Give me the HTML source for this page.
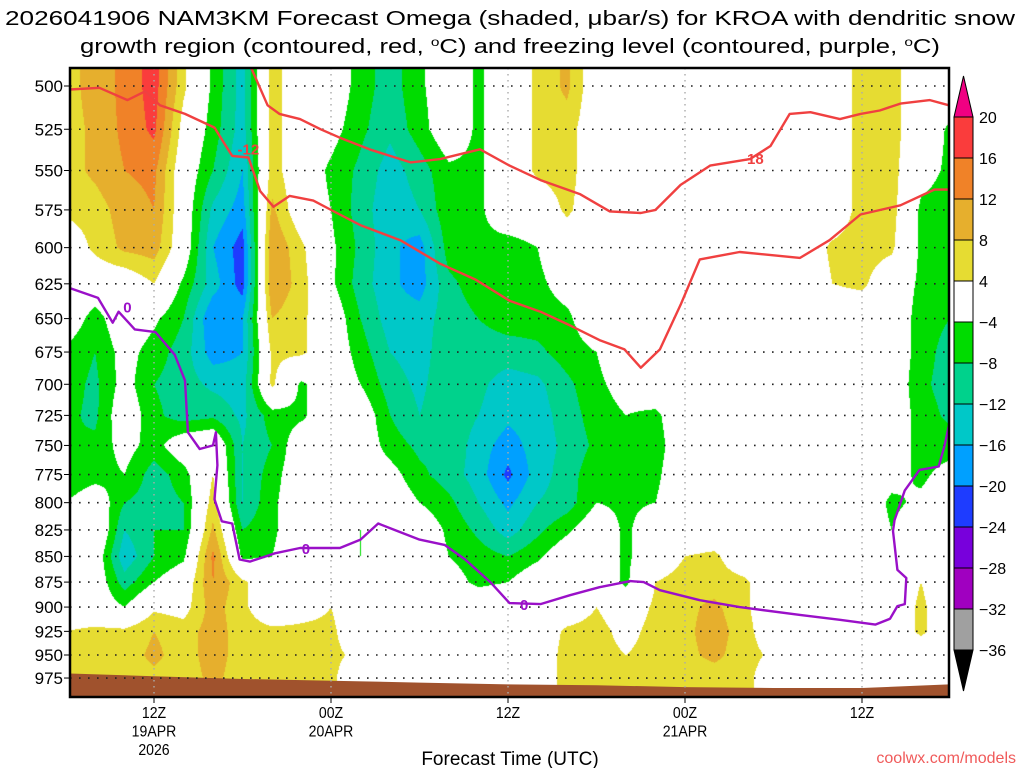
<!DOCTYPE html>
<html><head><meta charset="utf-8">
<style>
html,body{margin:0;padding:0;background:#fff;width:1024px;height:768px;overflow:hidden}
#wrap{position:relative;width:1024px;height:768px}
#cv{position:absolute;left:70px;top:68px}
#svg{position:absolute;left:0;top:0}
text{font-family:"Liberation Sans","DejaVu Sans",sans-serif}
</style></head>
<body>
<div id="wrap">
<canvas id="cv" width="879" height="629"></canvas>
<svg id="svg" width="1024" height="768"></svg>
</div>
<script>
// ---- data ----
const hours = [0,2,4,6,8,10,12,14,16,18,20,22,24,26,28,30,32,34,36,38,40,42,44,46,48,50,52,54,56,58,60];
const levels = [500,525,550,575,600,625,650,675,700,725,750,775,800,825,850,875,900,925,950,975];
const omega500 = [6,10,13,18,5,-5,-14,6,0,0,-6,-10,-5,0,-5,0,5,9,0,0,0,0,0,0,0,0,0,6,6,0,0];
const omega525 = [6,9,13,17,2,-6,-14,6,0,-2,-7,-11,-6,0,-5,0,5,6,0,0,0,0,0,0,0,0,0,6,6,0,-5];
const omega550 = [6,9,12,13,0,-8,-16,6,0,-5,-9,-14,-10,-5,-5,0,5,6,0,0,0,0,0,0,0,0,0,6,6,-2,-5];
const omega575 = [5,6,10,12,0,-13,-18,9,0,-4,-10,-15,-12,-5,-5,0,0,5,0,0,0,0,0,0,0,0,0,6,6,-5,-6];
const omega600 = [0,5,9,10,0,-16,-22,12,5,-3,-9,-15,-18,-6,-5,-6,-4,0,0,0,0,0,0,0,0,0,5,6,5,-5,-6];
const omega625 = [0,0,0,4,-5,-14,-22,12,6,-3,-10,-15,-18,-9,-6,-5,-5,-2,0,0,0,0,0,0,0,0,4,5,0,-5,-6];
const omega650 = [0,-6,0,-3,-8,-20,-16,8,5,0,-8,-14,-14,-10,-8,-6,-6,-5,0,0,0,0,0,0,0,0,0,0,0,-6,-8];
const omega675 = [-5,-8,-2,-6,-10,-18,-16,5,5,0,-6,-12,-14,-9,-10,-10,-9,-6,-4,0,0,0,0,0,0,0,0,0,0,-6,-10];
const omega700 = [-6,-9,-2,-8,-10,-13,-14,5,-5,0,-4,-10,-13,-9,-11,-14,-13,-9,-5,-2,0,0,0,0,0,0,0,0,0,-7,-10];
const omega725 = [-7,-9,0,-7,-10,-9,-13,-6,-5,0,0,-8,-12,-9,-12,-15,-14,-10,-6,-4,-5,0,0,0,0,0,0,0,0,-6,-9];
const omega750 = [-8,-7,-2,-6,0,2,-12,-8,0,0,0,-6,-9,-9,-14,-18,-14,-11,-7,-5,-6,0,0,0,0,0,0,0,0,-6,-6];
const omega775 = [-8,-6,-4,-10,-6,4,-12,-6,0,0,0,-2,-7,-10,-14,-21,-14,-10,-5,-6,-5,0,0,0,0,0,0,0,-2,-5,-2];
const omega800 = [-4,0,-8,-10,-8,6,-12,-5,0,0,0,0,-4,-7,-12,-17,-12,-10,-4,-5,-4,0,0,0,0,0,0,0,-5,-3,0];
const omega825 = [0,3,-12,-8,-8,9,-8,-5,0,0,-4,0,0,-5,-9,-14,-9,-5,0,-5,0,0,0,0,0,0,0,0,-4,0,0];
const omega850 = [0,0,-15,-8,-5,13,-5,-4,0,0,-4,0,0,-4,-6,-8,-5,0,0,-5,0,4,5,0,0,0,0,0,0,0,0];
const omega875 = [0,0,-10,-4,0,12,5,0,0,0,0,0,0,-2,-5,-4,0,0,0,-5,4,6,6,5,0,0,0,0,0,4,0];
const omega900 = [0,0,-4,3,2,10,5,0,2,4,0,0,0,0,0,0,0,0,4,0,5,7,9,5,0,0,0,0,0,5,0];
const omega925 = [4,5,5,8,6,10,6,5,5,5,0,0,0,0,0,0,0,5,6,2,6,7,10,6,0,0,0,0,0,5,0];
const omega950 = [5,6,6,9,6,10,6,5,5,5,3,0,0,0,0,0,0,6,6,4,6,7,9,6,3,0,0,0,0,0,0];
const omega975 = [5,6,6,7,6,9,6,5,5,5,0,0,0,0,0,0,0,6,6,6,6,6,6,6,0,0,0,0,0,0,0];
const omegaRows = [omega500,omega525,omega550,omega575,omega600,omega625,omega650,omega675,omega700,omega725,omega750,omega775,omega800,omega825,omega850,omega875,omega900,omega925,omega950,omega975];

const terrainHours = [0,6,12,18,24,30,36,42,48,54,60];
const terrainPres = [970,973,976,978,980,982,983,985,986,986,982];

const dgzLine1Hours = [0.3,2.3,4.2,5.4,6.4,8.1,10.1,10.8,11.3,12.4,13.2,14.1,15.2,16.8,18.4,20.0,22.7,25.4,27.8,30.1,32.2,34.2,36.2,37.9,39.0,40.3,41.7,43.0,45.7,49.8,51.8,53.9,56.6,58.9,59.9];
const dgzLine1Pres = [502,501,508,503,511,516,524,534,541,542,563,573,566,569,577,585,595,611,622,637,645,655,666,673,687,673,640,608,603,607,595,578,572,562,562];
const dgzLine2Hours = [12.6,13.7,14.5,15.9,17.3,18.6,20.6,23.4,25.4,28.1,30.1,32.2,34.9,36.9,39.0,40.0,41.7,43.7,46.4,47.8,49.1,50.5,52.5,53.9,55.2,56.6,58.6,59.9];
const dgzLine2Pres = [490,511,516,519,525,530,537,545,543,537,547,556,565,576,577,575,559,547,543,535,516,515,519,516,514,510,508,511];
const frzHours = [0.3,2.2,3.2,3.6,4.7,6.1,7.4,8.1,8.3,9.1,10.0,10.2,10.3,10.1,10.6,11.3,11.8,12.5,14.2,15.9,18.6,20.0,21.2,22.3,24.0,25.7,27.1,28.8,30.1,32.2,34.2,36.2,38.3,39.2,40.3,43.0,45.7,49.8,52.5,54.9,55.9,56.4,56.9,57.0,56.4,56.1,56.2,56.9,57.9,59.2,59.6,59.9];
const frzPres = [628,635,653,645,658,660,677,697,739,753,750,739,767,797,817,819,853,855,847,842,842,834,819,825,834,839,853,875,896,897,888,880,874,875,883,893,900,908,913,918,912,899,897,871,863,826,816,789,771,768,750,733];

const contourLabels = [{t:"-12",h:12.4,p:537,c:"#f04040"},{t:"-18",h:46.6,p:543,c:"#f04040"},{t:"0",h:4.2,p:642,c:"#9a10c8"},{t:"0",h:16.3,p:843,c:"#9a10c8"},{t:"0",h:31.1,p:898,c:"#9a10c8"}];
const yTicks = [500,525,550,575,600,625,650,675,700,725,750,775,800,825,850,875,900,925,950,975];
const xTickHours = [6,18,30,42,54];
const xTickLab1 = ["12Z","00Z","12Z","00Z","12Z"];
const xTickLab2 = ["19APR","20APR","","21APR",""];
const xTickLab3 = ["2026","","","",""];
const cbBounds = [20,16,12,8,4,-4,-8,-12,-16,-20,-24,-28,-32,-36];
const cbColors = ["#fa3c3c","#f08228","#e6af2d","#e6dc32","#ffffff","#00dc00","#00d28c","#00c8c8","#00a0ff","#1e3cff","#7800dc","#a000c0","#a0a0a0"];

// ---- scales ----
const X0=70,X1=949,Y0=68,Y1=697;
function xs(h){return 65.5+14.75*h;}
function ys(p){return 86+886.5*Math.log(p/500);}
function colorFor(v){
  if(v>20) return [240,0,130];
  if(v<-36) return [0,0,0];
  for(let i=0;i<cbBounds.length-1;i++){
    if(v<=cbBounds[i] && v>cbBounds[i+1]){const c=cbColors[i];return [parseInt(c.substr(1,2),16),parseInt(c.substr(3,2),16),parseInt(c.substr(5,2),16)];}
  }
  return [160,160,160];
}
// ---- shading ----
(function(){
  const cv=document.getElementById('cv');const ctx=cv.getContext('2d');
  const W=cv.width,H=cv.height;const img=ctx.createImageData(W,H);
  const rowY=levels.map(ys);const colX=hours.map(xs);
  for(let py=0;py<H;py++){
    const y=Y0+py+0.5;
    let r=0;while(r<rowY.length-2&&y>rowY[r+1])r++;
    let ty=(y-rowY[r])/(rowY[r+1]-rowY[r]);ty=Math.max(0,Math.min(1,ty));
    for(let px=0;px<W;px++){
      const x=X0+px+0.5;
      let c=0;while(c<colX.length-2&&x>colX[c+1])c++;
      let tx=(x-colX[c])/(colX[c+1]-colX[c]);tx=Math.max(0,Math.min(1,tx));
      const a=omegaRows[r][c],b=omegaRows[r][c+1],d=omegaRows[r+1][c],e=omegaRows[r+1][c+1];
      const v=(a*(1-tx)+b*tx)*(1-ty)+(d*(1-tx)+e*tx)*ty;
      const col=colorFor(v);const k=(py*W+px)*4;
      img.data[k]=col[0];img.data[k+1]=col[1];img.data[k+2]=col[2];img.data[k+3]=255;
    }
  }
  ctx.putImageData(img,0,0);
})();
// ---- svg ----
const NS="http://www.w3.org/2000/svg";
const svg=document.getElementById('svg');
function mk(tag,attrs,parent){const el=document.createElementNS(NS,tag);for(const k in attrs)el.setAttribute(k,attrs[k]);(parent||svg).appendChild(el);return el;}

// terrain
let tp="M"+X0+","+Y1;
for(let i=0;i<terrainHours.length;i++){tp+=" L"+Math.max(X0,Math.min(X1,xs(terrainHours[i])))+","+ys(terrainPres[i]);}
tp+=" L"+X1+","+Y1+" Z";
const terr=mk('path',{d:tp,fill:'#a0522d'});



// grid
yTicks.forEach(p=>{
  const g=mk('line',{x1:X0,x2:X1,y1:ys(p),y2:ys(p),stroke:'#222','stroke-width':1.6,'stroke-dasharray':'1.6,7.4'});
  
  
  const tk=mk('line',{x1:X0-6,x2:X0,y1:ys(p),y2:ys(p),stroke:'#000','stroke-width':1});
  
  
  const t=mk('text',{x:63,y:ys(p)+6,'text-anchor':'end','font-size':17,fill:'#000'});t.textContent=p;
  
  
});
xTickHours.forEach((h,i)=>{
  const x=xs(h);
  const g=mk('line',{x1:x,x2:x,y1:Y0,y2:Y1,stroke:'#aaa','stroke-width':1.4,'stroke-dasharray':'1.5,4.5'});
  
  
  const tk=mk('line',{x1:x,x2:x,y1:Y1,y2:Y1+6,stroke:'#000','stroke-width':1});
  
  
  [xTickLab1[i],xTickLab2[i],xTickLab3[i]].forEach((s,j)=>{
    if(!s)return;
    const t=mk('text',{x:x,y:718+j*18.5,'text-anchor':'middle','font-size':16,fill:'#000',transform:'translate('+x+',0) scale(0.88,1) translate('+(-x)+',0)'});t.textContent=s;
    
    
  });
});

// contour lines
function drawLine(hs,ps,color,name){
  let d="";for(let i=0;i<hs.length;i++){d+=(i?" L":"M")+xs(hs[i]).toFixed(1)+","+ys(ps[i]).toFixed(1);}
  const l=mk('path',{d:d,fill:'none',stroke:color,'stroke-width':2.4,'stroke-linejoin':'round'});
  
  
}
drawLine(dgzLine1Hours,dgzLine1Pres,'#f04040','dgz-contour-minus12');
drawLine(dgzLine2Hours,dgzLine2Pres,'#f04040','dgz-contour-minus18');
drawLine(frzHours,frzPres,'#9a10c8','freezing-level-contour');
contourLabels.forEach(c=>{
  const t=mk('text',{x:xs(c.h),y:ys(c.p)+5,'text-anchor':'middle','font-size':15,'font-weight':'bold',fill:c.c});t.textContent=c.t;
  
  
});

// frame
const fr=mk('rect',{x:X0,y:Y0,width:X1-X0,height:Y1-Y0,fill:'none',stroke:'#000','stroke-width':2.5});



// colorbar
const cbx=954,cbw=19,cbTop=117,cbStep=41;
const triU=mk('polygon',{points:cbx+","+cbTop+" "+(cbx+cbw)+","+cbTop+" "+(cbx+cbw/2)+","+(cbTop-41),fill:'#f00082',stroke:'#000','stroke-width':1});


cbColors.forEach((c,i)=>{
  const r=mk('rect',{x:cbx,y:cbTop+i*cbStep,width:cbw,height:cbStep,fill:c,stroke:'#000','stroke-width':1});
  
  
});
const bot=cbTop+cbColors.length*cbStep;
const triD=mk('polygon',{points:cbx+","+bot+" "+(cbx+cbw)+","+bot+" "+(cbx+cbw/2)+","+(bot+41),fill:'#000',stroke:'#000','stroke-width':1});


cbBounds.forEach((b,i)=>{
  const t=mk('text',{x:979,y:cbTop+i*cbStep+6,'font-size':16,fill:'#000'});t.textContent=(b<0?"\u2212"+(-b):b);
  
  
});
</script>
<svg width="1024" height="768" style="position:absolute;left:0;top:0;pointer-events:none">
<text x="510" y="25" text-anchor="middle" font-size="20" textLength="1010" lengthAdjust="spacingAndGlyphs" font-family="Liberation Sans, sans-serif">2026041906 NAM3KM Forecast Omega (shaded, μbar/s) for KROA with dendritic snow</text>
<text x="510" y="53" text-anchor="middle" font-size="20" textLength="860" lengthAdjust="spacingAndGlyphs" font-family="Liberation Sans, sans-serif">growth region (contoured, red, <tspan dy="-7" font-size="12">o</tspan><tspan dy="7">C) and freezing level (contoured, purple, </tspan><tspan dy="-7" font-size="12">o</tspan><tspan dy="7">C)</tspan></text>
<text x="510" y="765" text-anchor="middle" font-size="19" font-family="Liberation Sans, sans-serif">Forecast Time (UTC)</text>
<text x="1016" y="763" text-anchor="end" font-size="16" fill="#f05a5a" font-family="Liberation Sans, sans-serif">coolwx.com/models</text>
</svg>
</body></html>
